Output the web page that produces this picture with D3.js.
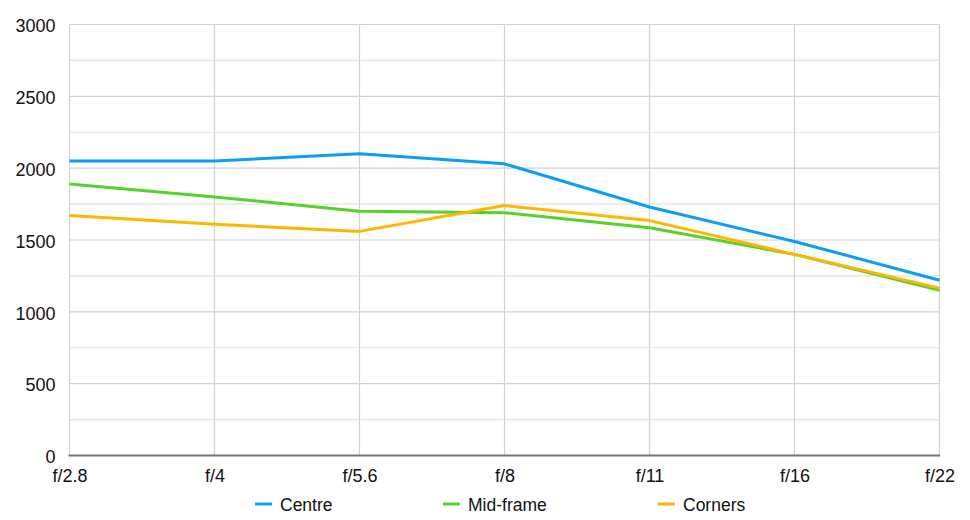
<!DOCTYPE html>
<html><head><meta charset="utf-8">
<script src="https://cdn.jsdelivr.net/npm/d3@7"></script>
<style>
html,body{margin:0;padding:0;background:#fff;}
text{font-family:"Liberation Sans",Arial,Helvetica,sans-serif;}
</style></head>
<body><svg id="chart" width="970" height="520"></svg>
<script>
const categories = ["f/2.8","f/4","f/5.6","f/8","f/11","f/16","f/22"];
const centre   = [2050, 2050, 2100, 2030, 1730, 1490, 1220];
const midFrame = [1890, 1800, 1700, 1690, 1585, 1400, 1150];
const corners  = [1670, 1610, 1560, 1740, 1635, 1400, 1165];
const yTicks = [0, 500, 1000, 1500, 2000, 2500, 3000];
const yMinor = [250, 750, 1250, 1750, 2250, 2750];
const seriesNames = ["Centre","Mid-frame","Corners"];
const seriesColors = ["#0a9ef5","#55d22b","#fdb700"];
const series = [centre, midFrame, corners];

const svg = d3.select("#chart");
const L = 69.5, R = 939.5, T = 24.5, B = 455.5;
const x = d3.scalePoint().domain(categories).range([L, R]);
const y = d3.scaleLinear().domain([0, 3000]).range([B, T]);

// minor grid
svg.append("g").selectAll("line").data(yMinor).join("line")
  .attr("x1", L).attr("x2", R).attr("y1", d => y(d)).attr("y2", d => y(d))
  .attr("stroke", "#e3e3e3").attr("stroke-width", 1.2);
// major grid
svg.append("g").selectAll("line").data(yTicks.filter(d => d > 0)).join("line")
  .attr("x1", L).attr("x2", R).attr("y1", d => y(d)).attr("y2", d => y(d))
  .attr("stroke", "#d2d2d2").attr("stroke-width", 1.2);
// vertical grid
svg.append("g").selectAll("line").data(categories).join("line")
  .attr("x1", d => x(d)).attr("x2", d => x(d)).attr("y1", T).attr("y2", B)
  .attr("stroke", "#d2d2d2").attr("stroke-width", 1.2);

// y axis labels
const yAxis = d3.axisLeft(y).tickValues(yTicks).tickSize(0).tickPadding(14).tickFormat(d3.format("d"));
const yg = svg.append("g").attr("transform", `translate(${L},0)`).call(yAxis);
yg.select(".domain").remove();
yg.selectAll("text").attr("font-size", 18).attr("fill", "#111").attr("dy", "0.4em")
  .attr("font-family", "'Liberation Sans',Arial,sans-serif");

// x axis
const xAxis = d3.axisBottom(x).tickSize(0).tickPadding(14);
const xg = svg.append("g").attr("transform", `translate(0,${B})`).call(xAxis);
xg.select(".domain").remove();
xg.selectAll("text").attr("font-size", 18).attr("fill", "#111")
  .attr("font-family", "'Liberation Sans',Arial,sans-serif");
svg.append("line").attr("x1", L - 1).attr("x2", R + 0.5).attr("y1", B).attr("y2", B)
  .attr("stroke", "#757575").attr("stroke-width", 2);

// lines
const line = d3.line().x((d, i) => x(categories[i])).y(d => y(d));
series.forEach((s, k) => {
  svg.append("path").datum(s).attr("d", line).attr("fill", "none")
    .attr("stroke", seriesColors[k]).attr("stroke-width", 3)
    .attr("stroke-linejoin", "round").attr("stroke-linecap", "butt");
});

// legend
const legX = [255, 443, 658];
const lg = svg.append("g");
seriesNames.forEach((n, k) => {
  lg.append("line").attr("x1", legX[k]).attr("x2", legX[k] + 17)
    .attr("y1", 504).attr("y2", 504).attr("stroke", seriesColors[k]).attr("stroke-width", 3);
  lg.append("text").attr("x", legX[k] + 25).attr("y", 511).text(n)
    .attr("font-size", 17.5).attr("fill", "#111");
});
</script></body></html>
